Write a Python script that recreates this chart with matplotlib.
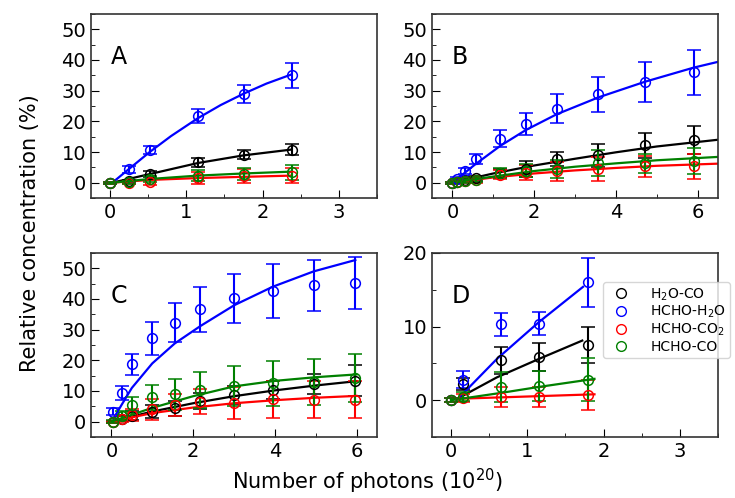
import numpy as np
import matplotlib.pyplot as plt
from matplotlib.lines import Line2D
from matplotlib.ticker import MultipleLocator

# species order: H2O-CO (black), HCHO-H2O (blue), HCHO-CO2 (red), HCHO-CO (green)
labels = ['H$_2$O-CO', 'HCHO-H$_2$O', 'HCHO-CO$_2$', 'HCHO-CO']
colors = ['black', 'blue', 'red', 'green']

######### panel A ########
xA = [0, 0.25, 0.52, 1.15, 1.75, 2.38]
yA = [[0, 0.5, 2.9, 6.6, 9.1, 10.8],
      [0, 4.3, 10.6, 21.7, 29.0, 35.0],
      [0, 0.0, 0.1, 1.5, 2.1, 2.3],
      [0, 0.1, 1.2, 2.3, 2.9, 3.4]]
eA = [[0.3, 0.5, 0.9, 1.4, 1.4, 1.9],
      [0.3, 1.0, 1.3, 2.2, 3.0, 4.0],
      [0.3, 0.5, 0.9, 1.9, 2.2, 2.4],
      [0.3, 0.5, 1.0, 1.8, 2.0, 2.5]]
fitA_x = [[0.03, 0.52, 1.15, 1.75, 2.38],
          [0.03, 0.25, 0.52, 0.8, 1.15, 1.45, 1.75, 2.05, 2.38],
          [0.03, 0.52, 1.15, 1.75, 2.38],
          [0.03, 0.52, 1.15, 1.75, 2.38]]
fitA_y = [[0.0, 2.8, 6.4, 8.9, 10.8],
          [0.0, 4.5, 10.0, 15.2, 21.0, 25.3, 29.0, 32.3, 35.3],
          [0.0, 0.9, 1.5, 1.9, 2.3],
          [0.0, 1.2, 2.3, 3.0, 3.6]]

######### panel B ########
xB = [0, 0.12, 0.3, 0.58, 1.17, 1.80, 2.55, 3.57, 4.71, 5.90]
yB = [[0, 0.3, 0.8, 1.5, 3.2, 4.5, 7.7, 8.9, 12.2, 13.8],
      [0, 1.2, 3.7, 7.7, 14.4, 19.2, 24.1, 28.8, 32.8, 36.0],
      [0, 0.1, 0.4, 0.8, 2.6, 3.2, 3.7, 4.5, 5.3, 5.3],
      [0, 0.2, 0.5, 1.0, 3.2, 3.9, 4.5, 6.4, 6.4, 7.0]]
eB = [[0.3, 0.4, 0.6, 0.8, 1.2, 2.5, 2.4, 3.8, 4.1, 4.6],
      [0.3, 0.6, 1.0, 1.5, 2.8, 3.5, 4.7, 5.7, 6.6, 7.4],
      [0.3, 0.4, 0.6, 0.8, 1.4, 2.4, 3.2, 3.8, 3.5, 4.1],
      [0.3, 0.4, 0.6, 0.8, 1.6, 2.2, 3.0, 4.1, 3.1, 4.2]]
fitB_x = [[0, 1, 2, 3, 4, 5, 6.5],
          [0, 0.56, 1.17, 1.8, 2.55, 3.57, 4.71, 5.9, 6.5],
          [0, 1, 2, 3, 4, 5, 6.5],
          [0, 1, 2, 3, 4, 5, 6.5]]
fitB_y = [[0, 3.0, 5.6, 7.8, 9.9, 11.8, 14.0],
          [0, 6.0, 12.0, 17.2, 22.3, 27.8, 32.9, 37.5, 39.4],
          [0, 1.7, 3.0, 4.0, 4.8, 5.5, 6.2],
          [0, 2.0, 3.8, 5.2, 6.3, 7.3, 8.4]]

######### panel C ########
xC = [0.03, 0.26, 0.5, 1.0, 1.55, 2.18, 3.01, 3.95, 4.95, 5.97]
yC = [[0, 1.0, 2.0, 3.3, 4.3, 6.7, 8.7, 10.3, 12.3, 13.4],
      [3.3, 9.3, 18.7, 27.2, 32.3, 36.6, 40.2, 42.6, 44.5, 45.1],
      [0, 1.0, 2.2, 4.0, 5.4, 6.5, 6.0, 7.3, 7.1, 7.1],
      [0, 2.0, 5.4, 7.9, 8.9, 10.3, 11.7, 12.5, 13.0, 14.3]]
eC = [[0.3, 0.8, 1.5, 2.0, 2.5, 2.7, 3.0, 3.0, 3.3, 5.0],
      [1.2, 2.2, 3.5, 5.4, 6.4, 7.3, 8.0, 8.8, 8.3, 8.5],
      [0.3, 1.0, 2.0, 3.5, 3.5, 4.0, 5.2, 6.0, 6.0, 6.0],
      [0.5, 1.5, 2.7, 4.1, 5.0, 6.0, 6.6, 7.3, 7.5, 7.9]]
fitC_x = [[0, 1, 2, 3, 4, 5, 6],
          [0.05, 0.25, 0.5, 1.0, 1.55, 2.18, 3.01, 3.95, 4.95, 5.97],
          [0, 1, 2, 3, 4, 5, 6],
          [0, 1, 2, 3, 4, 5, 6]]
fitC_y = [[0, 3.3, 6.0, 8.3, 10.2, 11.8, 13.2],
          [1.0, 5.5, 11.0, 19.0, 25.5, 31.2, 38.0, 44.0, 49.0, 52.7],
          [0, 2.8, 4.6, 6.0, 7.0, 7.8, 8.4],
          [0, 4.5, 8.3, 11.5, 13.3, 14.5, 15.4]]

######### panel D ########
xD = [0, 0.16, 0.66, 1.15, 1.80]
yD = [[0, 2.2, 5.4, 5.9, 7.5],
      [0, 2.8, 10.3, 10.4, 16.0],
      [0, 0.3, 0.45, 0.45, 0.7],
      [0, 0.5, 1.8, 1.9, 2.8]]
eD = [[0.3, 0.8, 1.8, 1.9, 2.4],
      [0.3, 1.1, 1.6, 1.6, 3.3],
      [0.3, 0.5, 1.4, 1.4, 2.0],
      [0.3, 0.6, 2.0, 2.0, 2.9]]
fitD_x = [[0.1, 0.6, 1.15, 1.72],
          [0.1, 0.6, 1.15, 1.73],
          [0.1, 1.0, 1.88],
          [0.0, 0.66, 1.15, 1.88]]
fitD_y = [[0.3, 3.1, 5.6, 8.1],
          [0.3, 5.6, 10.6, 15.4],
          [0.2, 0.5, 0.8],
          [0.0, 1.0, 1.8, 2.9]]

panels = [
    ('A', xA, yA, eA, fitA_x, fitA_y, (-0.25, 3.5), (-5, 55), 1, 0.5, 10),
    ('B', xB, yB, eB, fitB_x, fitB_y, (-0.5, 6.5), (-5, 55), 2, 1, 10),
    ('C', xC, yC, eC, fitC_x, fitC_y, (-0.5, 6.5), (-5, 55), 2, 1, 10),
    ('D', xD, yD, eD, fitD_x, fitD_y, (-0.25, 3.5), (-5, 20), 1, 0.5, 10),
]
rects = [[0.1238, 0.6024, 0.3891, 0.3695],
         [0.5878, 0.6024, 0.3891, 0.3695],
         [0.1238, 0.1225, 0.3891, 0.3695],
         [0.5878, 0.1225, 0.3891, 0.3695]]

fig = plt.figure(figsize=(7.35, 4.98), dpi=100)
axes = []
for rect, (tag, x, ys, es, fxs, fys, xl, yl, xmaj, xmin, ymaj) in zip(rects, panels):
    ax = fig.add_axes(rect)
    for k in range(4):
        ax.errorbar(x, ys[k], yerr=es[k], fmt='o', mfc='none', mec=colors[k],
                    ecolor=colors[k], ms=7, mew=1.1, capsize=5,
                    elinewidth=1.5, capthick=1.5)
        ax.plot(fxs[k], fys[k], color=colors[k], lw=1.6)
    ax.set_xlim(*xl)
    ax.set_ylim(*yl)
    ax.xaxis.set_major_locator(MultipleLocator(xmaj))
    ax.xaxis.set_minor_locator(MultipleLocator(xmin))
    ax.yaxis.set_major_locator(MultipleLocator(ymaj))
    ax.yaxis.set_minor_locator(MultipleLocator(5))
    ax.tick_params(which='both', direction='in', top=False, right=False,
                   labelsize=14)
    ax.tick_params(which='major', length=6)
    ax.tick_params(which='minor', length=3)
    for s in ax.spines.values():
        s.set_linewidth(1.2)
        s.set_color('#333333')
    ax.text(0.07, 0.73, tag, transform=ax.transAxes, fontsize=17)
    axes.append(ax)

handles = [Line2D([], [], marker='o', ls='none', mfc='none', mec=c, ms=7)
           for c in colors]
axes[3].legend(handles, labels, loc='upper left', bbox_to_anchor=(0.598, 0.842),
               borderaxespad=0, fontsize=10, labelspacing=0.1,
               handletextpad=1.1, borderpad=0.3)

fig.text(0.5, 0.005, 'Number of photons (10$^{20}$)', ha='center',
         va='bottom', fontsize=15)
fig.text(0.041, 0.532, 'Relative concentration (%)', ha='center',
         va='center', rotation=90, fontsize=15)

plt.savefig('out.png', dpi=100)
